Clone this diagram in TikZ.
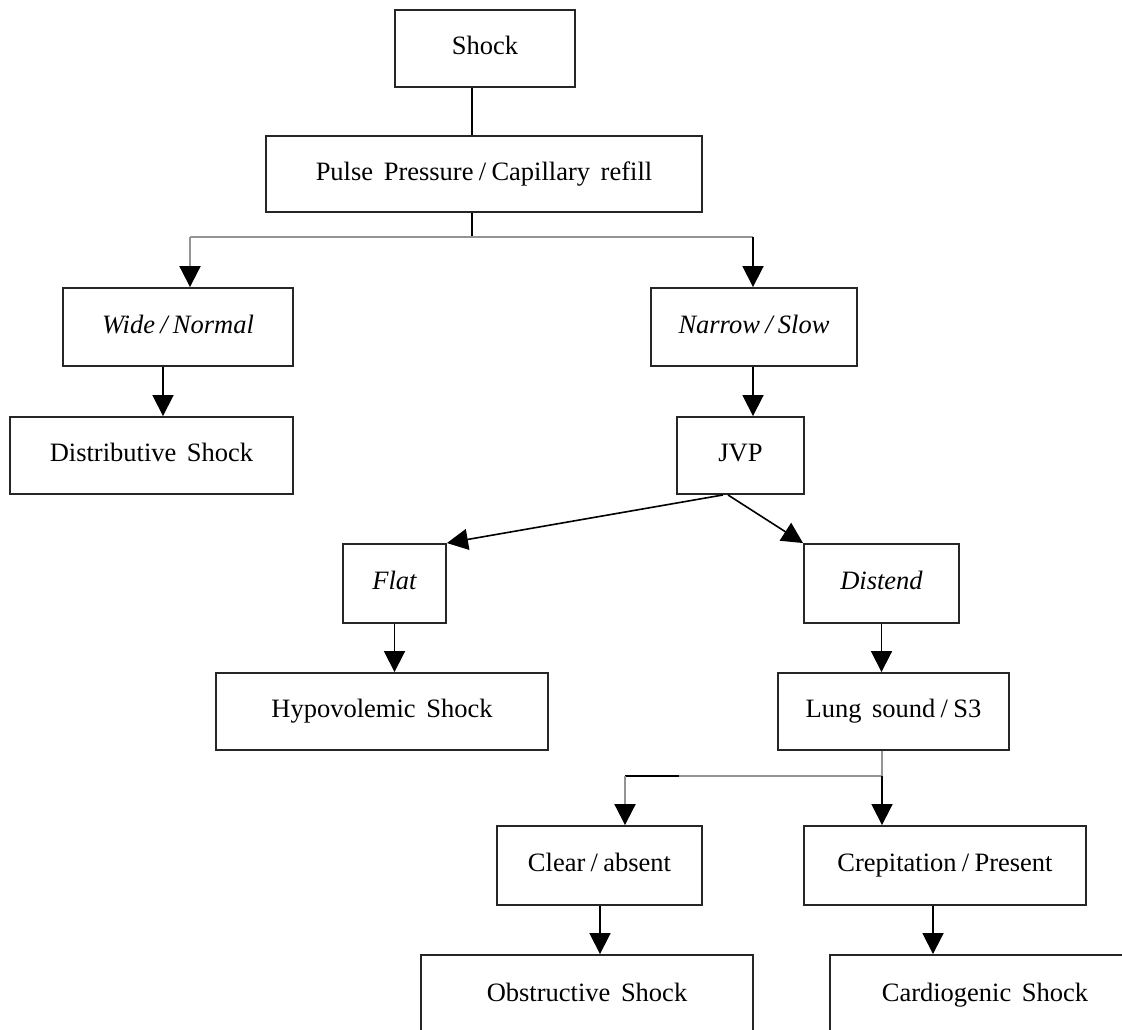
\documentclass[tikz,border=0pt]{standalone}
\usepackage{fontspec}
\setmainfont{Liberation Serif}[WordSpace=1.6]
\usetikzlibrary{arrows.meta,calc}
\newcommand\bxfont{\fontsize{26.5pt}{30pt}\selectfont}
\newcommand\slsh{\kern0.2em/\kern0.2em}
\begin{document}
\begin{tikzpicture}[x=1pt,y=-1pt,
  box/.style={draw=black!85, line width=1.9pt, inner sep=0pt, font=\bxfont,
    text height=18pt, text depth=6pt},
  conn/.style={line width=1.8pt, black},
  tip/.style={-{Triangle[length=21pt,width=21pt,color=black]}},
  faint/.style={line width=2pt, black!42}]
\useasboundingbox (0,0) rectangle (1122,1029);
\clip (0,0) rectangle (1122,1029);

\node[box, minimum width=180pt, minimum height=77pt] (shock) at (485,48.5) {Shock};
\node[box, minimum width=436pt, minimum height=76pt] (pulse) at (484,174) {Pulse Pressure\slsh Capillary refill};
\node[box, minimum width=230pt, minimum height=78pt] (wide) at (178,327) {\itshape Wide\slsh Normal};
\node[box, minimum width=206pt, minimum height=78pt] (narrow) at (754,327) {\itshape Narrow\slsh Slow};
\node[box, minimum width=283pt, minimum height=77pt] (dist) at (151.5,455.5) {Distributive Shock};
\node[box, minimum width=127pt, minimum height=77pt] (jvp) at (740.5,455.5) {JVP};
\node[box, minimum width=103pt, minimum height=79pt] (flat) at (394.5,583.5) {\itshape Flat};
\node[box, minimum width=155pt, minimum height=79pt] (distend) at (881.5,583.5) {\itshape Distend};
\node[box, minimum width=332pt, minimum height=77pt] (hypo) at (382,711.5) {Hypovolemic Shock};
\node[box, minimum width=231pt, minimum height=77pt] (lung) at (893.5,711.5) {Lung sound\slsh S3};
\node[box, minimum width=205pt, minimum height=79pt] (clear) at (599.5,865.5) {Clear\slsh absent};
\node[box, minimum width=282pt, minimum height=79pt] (crep) at (945,865.5) {Crepitation\slsh Present};
\node[box, minimum width=332pt, minimum height=80pt] (obst) at (587,995) {Obstructive Shock};
\node[box, minimum width=310pt, minimum height=80pt] (cardio) at (985,995) {Cardiogenic Shock};

% column coordinates
\coordinate (c1) at (472,237);
\coordinate (cw) at (190,237);
\coordinate (cn) at (753,237);
\coordinate (cd) at (163,0);
\coordinate (cj) at (753,0);
\coordinate (c2) at (882,776);
\coordinate (cc) at (625,776);
\coordinate (cb) at (679,776);
\coordinate (co) at (600,0);
\coordinate (cg) at (933,0);

% Shock -> Pulse
\draw[conn] (shock.south -| c1) -- (pulse.north -| c1);
% Pulse -> branches
\draw[conn] (pulse.south -| c1) -- (c1);
\draw[faint] (cw) -- (cn);
\draw[faint, tip] (cw) -- (wide.north -| cw);
\draw[conn, tip] (cn) -- (narrow.north -| cn);
% Wide -> Distributive
\draw[conn, tip] (wide.south -| cd) -- (dist.north -| cd);
% Narrow -> JVP
\draw[conn, tip] (narrow.south -| cj) -- (jvp.north -| cj);
% JVP -> Flat / Distend
\draw[conn, line width=1.6pt, tip] ($(jvp.south)+(-17.5,0)$) -- (flat.north east);
\draw[conn, line width=1.6pt, tip] ($(jvp.south)+(-12.5,0)$) -- (distend.north west);
% Flat -> Hypo, Distend -> Lung
\draw[conn, tip] (flat.south) -- (flat.south |- hypo.north);
\draw[conn, tip] (distend.south) -- (distend.south |- lung.north);
% Lung -> branches
\draw[faint] (lung.south -| c2) -- (c2);
\draw[faint] (c2) -- (cc);
\draw[conn] (cc) -- (cb);
\draw[faint, tip] (cc) -- (clear.north -| cc);
\draw[conn, tip] (c2) -- (crep.north -| c2);
% Clear -> Obstructive, Crepitation -> Cardiogenic
\draw[conn, tip] (clear.south -| co) -- (obst.north -| co);
\draw[conn, tip] (crep.south -| cg) -- (cardio.north -| cg);
\end{tikzpicture}
\end{document}
